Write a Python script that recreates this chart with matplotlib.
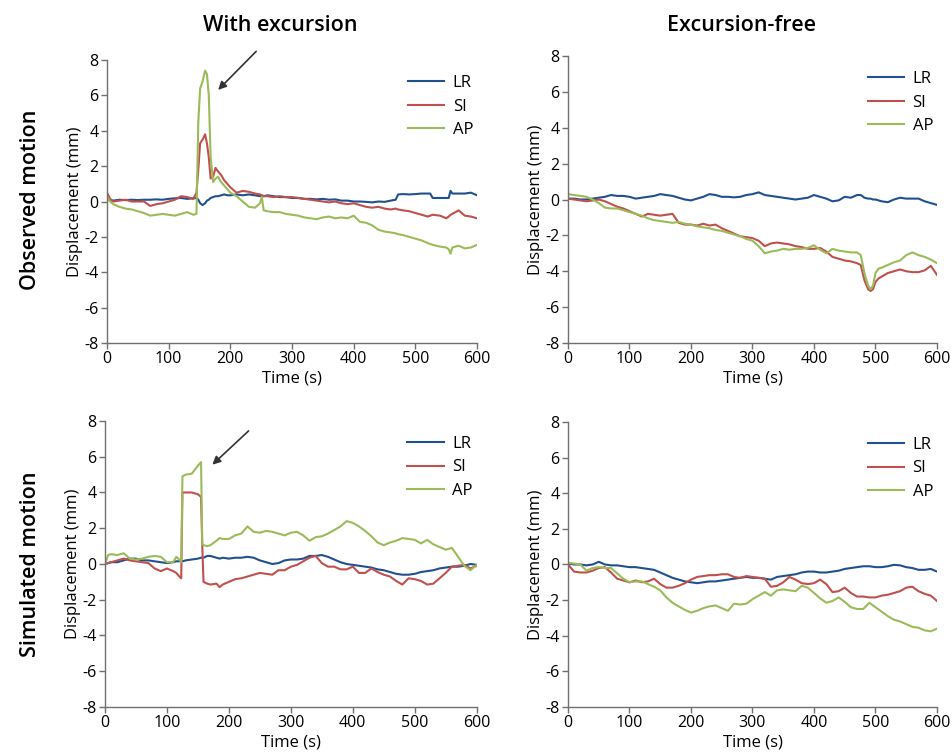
import numpy as np
import matplotlib
matplotlib.use("Agg")
import matplotlib.pyplot as plt

plt.rcParams['font.family'] = ['Open Sans', 'DejaVu Sans']
plt.rcParams['axes.unicode_minus'] = False

# colours of the three directions
col_lr = '#21508f'
col_si = '#c0504d'
col_ap = '#9bbb59'

# ---- observed motion, with excursion (top left)
obs_exc_t = [0, 5, 10, 20, 30, 40, 50, 60, 70, 80, 90, 100, 110, 120, 130, 140, 145, 148, 151, 155,
             159, 162, 165, 168, 172, 176, 180, 185, 190, 195, 200, 210, 220, 230, 240, 248, 251, 254,
             260, 270, 280, 290, 300, 310, 320, 330, 340, 350, 360, 370, 380, 390, 400, 410, 420, 430,
             440, 450, 460, 468, 472, 480, 490, 500, 510, 520, 524, 528, 540, 550, 554, 557, 560, 570,
             580, 590, 600]
obs_exc_lr = [0.15, 0.1, 0.05, 0.1, 0.08, 0.1, 0.08, 0.1, 0.1, 0.12, 0.1, 0.15, 0.18, 0.2, 0.15, 0.18,
              0.2, 0.1, -0.1, -0.2, -0.1, 0.05, 0.1, 0.2, 0.25, 0.3, 0.3, 0.35, 0.4, 0.35, 0.35, 0.4,
              0.35, 0.4, 0.35, 0.3, 0.35, 0.3, 0.35, 0.3, 0.25, 0.25, 0.2, 0.2, 0.15, 0.15, 0.12, 0.15,
              0.1, 0.12, 0.05, 0.05, 0.0, 0.0, -0.02, -0.05, 0.0, -0.02, 0.05, 0.1, 0.4, 0.42, 0.4,
              0.42, 0.45, 0.45, 0.45, 0.2, 0.2, 0.2, 0.2, 0.6, 0.45, 0.45, 0.45, 0.5, 0.35]
obs_exc_si = [0.5, 0.15, 0.0, 0.05, 0.1, 0.0, 0.0, 0.0, -0.25, -0.15, -0.1, 0.0, 0.1, 0.3, 0.25, 0.15,
              0.5, 1.8, 3.3, 3.5, 3.8, 3.3, 2.5, 1.3, 1.4, 1.9, 1.7, 1.5, 1.2, 1.0, 0.8, 0.5, 0.6, 0.55,
              0.45, 0.4, 0.35, 0.3, 0.3, 0.25, 0.3, 0.25, 0.25, 0.2, 0.15, 0.1, 0.05, 0.0, -0.05, 0.0,
              -0.1, -0.15, -0.1, -0.2, -0.3, -0.35, -0.3, -0.4, -0.45, -0.4, -0.45, -0.5, -0.55, -0.65,
              -0.75, -0.85, -0.8, -0.75, -0.8, -0.95, -0.85, -0.75, -0.7, -0.5, -0.8, -0.85, -0.95]
obs_exc_ap = [0.3, 0.0, -0.15, -0.3, -0.4, -0.45, -0.55, -0.65, -0.8, -0.75, -0.7, -0.75, -0.8, -0.7,
              -0.6, -0.75, -0.7, 4.5, 6.4, 6.8, 7.4, 7.2, 6.0, 2.5, 1.1, 1.3, 1.4, 1.1, 0.9, 0.7, 0.5,
              0.3, 0.0, -0.3, -0.35, -0.1, 0.25, -0.5, -0.55, -0.6, -0.6, -0.7, -0.75, -0.8, -0.9,
              -0.95, -1.0, -0.9, -0.85, -0.95, -0.9, -0.95, -0.8, -1.15, -1.2, -1.35, -1.6, -1.7,
              -1.75, -1.8, -1.85, -1.9, -2.0, -2.1, -2.2, -2.35, -2.4, -2.45, -2.55, -2.6, -2.7,
              -2.95, -2.6, -2.5, -2.65, -2.6, -2.45]

# ---- observed motion, excursion-free (top right)
obs_free_t = [0, 10, 20, 30, 40, 50, 60, 70, 80, 90, 100, 110, 120, 130, 140, 150, 160, 170, 180, 190,
              200, 210, 220, 230, 240, 250, 260, 270, 280, 290, 300, 310, 320, 330, 340, 350, 360, 370,
              380, 390, 400, 410, 420, 430, 440, 450, 460, 470, 476, 482, 488, 492, 496, 500, 505, 510,
              520, 530, 540, 550, 560, 570, 580, 590, 600]
obs_free_lr = [0.05, 0.05, 0.0, 0.0, 0.05, 0.1, 0.15, 0.25, 0.2, 0.2, 0.15, 0.05, 0.1, 0.15, 0.2, 0.3,
               0.25, 0.2, 0.1, 0.0, -0.05, 0.05, 0.15, 0.3, 0.25, 0.15, 0.15, 0.12, 0.15, 0.25, 0.3,
               0.4, 0.25, 0.2, 0.15, 0.1, 0.05, 0.0, 0.05, 0.1, 0.25, 0.15, 0.05, -0.1, -0.05, 0.15,
               0.1, 0.25, 0.25, 0.1, 0.05, 0.05, 0.0, 0.0, -0.05, -0.1, -0.15, 0.0, 0.1, 0.05, 0.05,
               0.05, -0.1, -0.2, -0.3]
obs_free_si = [0.05, 0.0, -0.05, -0.1, -0.05, 0.0, -0.1, -0.25, -0.4, -0.5, -0.65, -0.8, -0.95, -0.8,
               -0.85, -0.9, -0.85, -0.8, -1.3, -1.4, -1.4, -1.45, -1.35, -1.45, -1.4, -1.6, -1.75,
               -1.9, -2.05, -2.1, -2.15, -2.3, -2.6, -2.45, -2.4, -2.45, -2.5, -2.6, -2.65, -2.75,
               -2.75, -2.7, -2.9, -3.2, -3.3, -3.4, -3.45, -3.55, -3.65, -4.5, -5.0, -5.1, -5.0, -4.6,
               -4.4, -4.3, -4.1, -4.0, -3.9, -4.0, -4.05, -4.05, -3.95, -3.7, -4.2]
obs_free_ap = [0.3, 0.25, 0.2, 0.15, 0.0, -0.2, -0.45, -0.5, -0.5, -0.6, -0.7, -0.8, -0.9, -1.05,
               -1.15, -1.2, -1.25, -1.3, -1.25, -1.35, -1.4, -1.5, -1.55, -1.6, -1.7, -1.75, -1.85,
               -1.95, -2.05, -2.2, -2.3, -2.6, -3.0, -2.9, -2.85, -2.75, -2.8, -2.75, -2.75, -2.7,
               -2.55, -2.8, -3.0, -2.75, -2.85, -2.9, -2.95, -2.95, -3.1, -4.1, -4.8, -5.0, -4.8,
               -4.1, -3.85, -3.8, -3.65, -3.5, -3.4, -3.1, -2.95, -3.1, -3.2, -3.35, -3.55]

# ---- simulated motion, with excursion (bottom left)
sim_exc_t = [0, 5, 10, 20, 30, 40, 50, 60, 70, 80, 90, 100, 110, 115, 120, 123, 125, 130, 140, 150,
             155, 157, 159, 165, 170, 180, 185, 190, 200, 210, 220, 230, 240, 250, 260, 270, 280, 290,
             300, 310, 320, 330, 340, 350, 360, 370, 380, 390, 400, 410, 420, 430, 440, 450, 460, 470,
             480, 490, 500, 510, 520, 530, 540, 550, 560, 570, 580, 590, 600]
sim_exc_lr = [0.0, 0.05, 0.1, 0.1, 0.2, 0.3, 0.3, 0.2, 0.2, 0.15, 0.1, 0.05, 0.1, 0.15, 0.15, 0.15,
              0.15, 0.2, 0.25, 0.3, 0.35, 0.35, 0.35, 0.45, 0.45, 0.35, 0.3, 0.35, 0.3, 0.35, 0.35,
              0.4, 0.35, 0.2, 0.1, 0.0, 0.05, 0.2, 0.25, 0.25, 0.3, 0.45, 0.45, 0.5, 0.4, 0.25, 0.1,
              0.0, -0.05, -0.1, -0.15, -0.2, -0.3, -0.35, -0.45, -0.55, -0.6, -0.6, -0.55, -0.45,
              -0.4, -0.35, -0.25, -0.2, -0.15, -0.15, -0.1, 0.0, -0.05]
sim_exc_si = [0.0, 0.05, 0.1, 0.2, 0.3, 0.2, 0.15, 0.1, 0.05, -0.25, -0.4, -0.25, -0.4, -0.5, -0.7,
              -0.8, 4.0, 4.0, 4.0, 3.9, 3.75, 1.0, -1.0, -1.1, -1.15, -1.1, -1.3, -1.15, -1.0, -0.85,
              -0.8, -0.7, -0.6, -0.5, -0.55, -0.6, -0.35, -0.35, -0.15, -0.05, 0.15, 0.35, 0.45, 0.05,
              -0.15, -0.15, -0.3, -0.3, -0.15, -0.5, -0.5, -0.25, -0.45, -0.6, -0.7, -0.95, -1.15,
              -0.8, -0.85, -0.95, -1.15, -1.1, -0.8, -0.5, -0.15, -0.1, -0.05, -0.25, -0.1]
sim_exc_ap = [0.0, 0.5, 0.55, 0.5, 0.6, 0.3, 0.25, 0.3, 0.4, 0.45, 0.4, 0.1, 0.1, 0.4, 0.25, 0.1,
              4.9, 5.0, 5.05, 5.5, 5.7, 1.1, 1.05, 1.0, 1.05, 1.3, 1.45, 1.4, 1.4, 1.6, 1.7, 2.1, 1.8,
              1.75, 1.85, 1.8, 1.7, 1.6, 1.75, 1.8, 1.6, 1.3, 1.5, 1.55, 1.7, 1.9, 2.1, 2.4, 2.3,
              2.1, 1.85, 1.55, 1.2, 1.05, 1.2, 1.3, 1.45, 1.4, 1.35, 1.15, 1.35, 1.1, 0.95, 0.8, 0.9,
              0.4, -0.1, -0.35, -0.05]

# ---- simulated motion, excursion-free (bottom right)
sim_free_t = list(range(0, 601, 10))
sim_free_lr = [0.05, 0.0, 0.0, -0.05, 0.0, 0.15, 0.0, -0.05, -0.05, -0.1, -0.15, -0.15, -0.2, -0.25,
               -0.3, -0.45, -0.6, -0.75, -0.85, -0.95, -1.0, -1.05, -1.0, -0.95, -0.95, -0.9, -0.85,
               -0.8, -0.75, -0.7, -0.75, -0.75, -0.8, -0.85, -0.7, -0.65, -0.6, -0.55, -0.45, -0.4,
               -0.4, -0.45, -0.45, -0.4, -0.35, -0.25, -0.2, -0.15, -0.1, -0.1, -0.15, -0.15, -0.1,
               -0.02, -0.05, -0.15, -0.2, -0.3, -0.3, -0.25, -0.4]
sim_free_si = [0.0, -0.4, -0.45, -0.45, -0.35, -0.2, -0.15, -0.45, -0.8, -0.9, -1.0, -0.9, -1.0,
               -0.95, -0.8, -1.1, -1.3, -1.3, -1.2, -1.05, -0.85, -0.7, -0.65, -0.6, -0.6, -0.55,
               -0.55, -0.7, -0.75, -0.65, -0.7, -0.75, -0.8, -1.25, -1.2, -1.0, -0.7, -0.85, -1.05,
               -1.1, -1.05, -0.85, -1.1, -1.55, -1.5, -1.3, -1.6, -1.8, -1.8, -1.85, -1.85, -1.75,
               -1.7, -1.6, -1.5, -1.3, -1.25, -1.5, -1.65, -1.75, -2.05]
sim_free_ap = [0.1, 0.05, 0.0, -0.35, -0.2, -0.15, -0.2, -0.2, -0.5, -0.8, -1.0, -0.95, -0.95, -1.1,
               -1.25, -1.45, -1.85, -2.15, -2.35, -2.55, -2.7, -2.6, -2.45, -2.35, -2.3, -2.45, -2.6,
               -2.2, -2.25, -2.2, -1.95, -1.75, -1.55, -1.75, -1.45, -1.4, -1.45, -1.5, -1.2, -1.3,
               -1.6, -1.9, -2.15, -2.05, -1.85, -2.1, -2.4, -2.5, -2.5, -2.15, -2.4, -2.65, -2.9,
               -3.1, -3.2, -3.35, -3.5, -3.55, -3.7, -3.75, -3.6]


def panel(ax, t, lr, si, ap):
    ax.plot(t, lr, color=col_lr, lw=1.5, label='LR')
    ax.plot(t, si, color=col_si, lw=1.5, label='SI')
    ax.plot(t, ap, color=col_ap, lw=1.5, label='AP')
    ax.set_xlim(0, 600)
    ax.set_ylim(-8, 8)
    ax.set_xticks(range(0, 601, 100))
    ax.set_yticks(range(-8, 9, 2))
    for s in ['top', 'right']:
        ax.spines[s].set_visible(False)
    for s in ['left', 'bottom']:
        ax.spines[s].set_color('#707070')
        ax.spines[s].set_linewidth(1.0)
    ax.tick_params(direction='out', length=4, width=1.0, color='#707070', labelsize=11.5, pad=2)
    ax.set_ylabel('Displacement (mm)', fontsize=12, labelpad=1)
    ax.set_xlabel('Time (s)', fontsize=12, labelpad=2)
    ax.legend(loc='upper right', bbox_to_anchor=(1.03, 1.0), frameon=False, fontsize=12,
              handlelength=2.2, labelspacing=0.45, handletextpad=0.5)


fig = plt.figure(figsize=(9.53, 7.55), dpi=100)
ax1 = fig.add_axes([0.1123, 0.5457, 0.3883, 0.3748])
ax2 = fig.add_axes([0.596, 0.5457, 0.3872, 0.3801])
ax3 = fig.add_axes([0.1102, 0.0636, 0.3900, 0.3788])
ax4 = fig.add_axes([0.596, 0.0636, 0.3872, 0.3775])

panel(ax1, obs_exc_t, obs_exc_lr, obs_exc_si, obs_exc_ap)
panel(ax2, obs_free_t, obs_free_lr, obs_free_si, obs_free_ap)
panel(ax3, sim_exc_t, sim_exc_lr, sim_exc_si, sim_exc_ap)
panel(ax4, sim_free_t, sim_free_lr, sim_free_si, sim_free_ap)

# arrows pointing at the excursions
arrow = dict(arrowstyle='-|>', color='#333333', lw=1.2, mutation_scale=12)
ax1.annotate('', xy=(177, 6.2), xytext=(245, 8.6), arrowprops=arrow, annotation_clip=False)
ax3.annotate('', xy=(170, 5.45), xytext=(235, 7.55), arrowprops=arrow, annotation_clip=False)

# column and row headings
fig.text(0.294, 0.966, 'With excursion', ha='center', va='center', fontsize=15.5, fontweight='semibold')
fig.text(0.778, 0.966, 'Excursion-free', ha='center', va='center', fontsize=15.5, fontweight='semibold')
fig.text(0.032, 0.735, 'Observed motion', ha='center', va='center', rotation=90,
         fontsize=15.5, fontweight='semibold')
fig.text(0.032, 0.252, 'Simulated motion', ha='center', va='center', rotation=90,
         fontsize=15.5, fontweight='semibold')

fig.savefig('out.png', dpi=100)
